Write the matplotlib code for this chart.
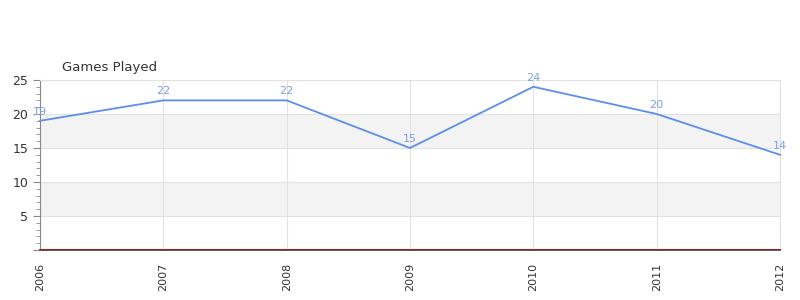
import matplotlib
matplotlib.use("Agg")
import matplotlib.pyplot as plt
from matplotlib.ticker import MultipleLocator

years = ["2006", "2007", "2008", "2009", "2010", "2011", "2012"]
games = [19, 22, 22, 15, 24, 20, 14]
title = "Games Played"
ytick_vals = [0, 5, 10, 15, 20, 25]
ytick_labels = ["", "5", "10", "15", "20", "25"]

fig = plt.figure(figsize=(8, 3), dpi=100)
ax = fig.add_axes([0.05, 0.1667, 0.925, 0.5667])
x = list(range(len(years)))

ax.set_xlim(0, len(years) - 1)
ax.set_ylim(0, 25)

# alternating bands
for lo in range(0, 25, 5):
    if (lo // 5) % 2 == 1:
        ax.axhspan(lo, lo + 5, color="#f3f3f3", zorder=0, lw=0)

ax.set_yticks(ytick_vals)
ax.set_yticklabels(ytick_labels)
ax.yaxis.set_minor_locator(MultipleLocator(1))
ax.set_xticks(x)
ax.set_xticklabels(years, rotation=90)
ax.grid(True, which="major", color="#e2e2e2", lw=0.8, zorder=1)
ax.tick_params(axis="x", length=0, labelsize=8, labelcolor="#333333", pad=9)
ax.tick_params(axis="y", which="major", length=5, color="#888888", labelsize=9, labelcolor="#333333")
ax.tick_params(axis="y", which="minor", length=3, color="#888888")

for s in ["top", "right"]:
    ax.spines[s].set_color("#e2e2e2")
    ax.spines[s].set_linewidth(0.8)
ax.spines["left"].set_color("#888888")
ax.spines["left"].set_linewidth(0.8)
ax.spines["bottom"].set_color("#555555")
ax.spines["bottom"].set_linewidth(1.4)

ax.plot(x, games, color="#5b8fe8", lw=1.3, zorder=3, clip_on=False)
for xi, v in zip(x, games):
    ax.annotate(str(v), (xi, v), xytext=(0, 3), textcoords="offset points",
                ha="center", va="bottom", fontsize=8, color="#7a9fe6", zorder=4)

ax.axhline(0.08, color="#cc0000", lw=0.5, zorder=5, clip_on=False)

fig.text(62 / 800, 1 - 67 / 300, title, ha="left", va="center", fontsize=9.5, color="#333333")

fig.savefig("out.png", dpi=100)
